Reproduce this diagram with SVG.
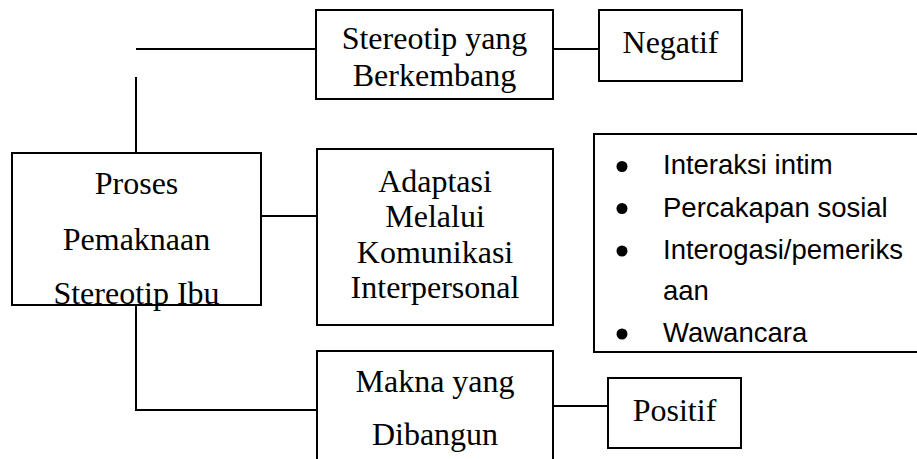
<svg xmlns="http://www.w3.org/2000/svg" width="917" height="459" viewBox="0 0 917 459">
<style>
.box{fill:#fff;stroke:#000;stroke-width:2}
.ln{fill:none;stroke:#000;stroke-width:2}
.t{font-family:"Liberation Serif","Times New Roman",serif;font-size:32px;fill:#000;text-anchor:middle}
.s{font-family:"Liberation Sans",Arial,sans-serif;font-size:27.5px;fill:#000}
</style>
<rect width="917" height="459" fill="#fff"/>
<g id="connectors">
<path class="ln" d="M136 49H316"/>
<path class="ln" d="M136 77V153"/>
<path class="ln" d="M261 216H317"/>
<path class="ln" d="M136 305V410H317"/>
<path class="ln" d="M553 49H599"/>
<path class="ln" d="M553 406H608"/>
</g>
<g id="stereotip">
<rect class="box" x="316" y="10" width="237" height="89"/>
<text class="t" x="434.5" y="49">Stereotip yang</text>
<text class="t" x="434.5" y="86">Berkembang</text>
</g>
<g id="negatif">
<rect class="box" x="599" y="10" width="143" height="71"/>
<text class="t" x="670.5" y="53">Negatif</text>
</g>
<g id="proses">
<rect class="box" x="12" y="153" width="249" height="152"/>
<text class="t" x="136.5" y="194">Proses</text>
<text class="t" x="136.5" y="250">Pemaknaan</text>
<text class="t" x="136.5" y="304">Stereotip Ibu</text>
</g>
<g id="adaptasi">
<rect class="box" x="317" y="149" width="236" height="176"/>
<text class="t" x="435" y="191.5">Adaptasi</text>
<text class="t" x="435" y="227">Melalui</text>
<text class="t" x="435" y="262.5">Komunikasi</text>
<text class="t" x="435" y="298">Interpersonal</text>
</g>
<g id="bentuk">
<rect class="box" x="594" y="134" width="330" height="218"/>
<circle cx="622" cy="166.5" r="5.5"/>
<circle cx="622" cy="208.5" r="5.5"/>
<circle cx="622" cy="251" r="5.5"/>
<circle cx="622" cy="334" r="5.5"/>
<text class="s" x="663" y="174">Interaksi intim</text>
<text class="s" x="663" y="216.5">Percakapan sosial</text>
<text class="s" x="663" y="259">Interogasi/pemeriks</text>
<text class="s" x="663" y="300">aan</text>
<text class="s" x="663" y="341.5">Wawancara</text>
</g>
<g id="makna">
<rect class="box" x="317" y="351" width="236" height="130"/>
<text class="t" x="435" y="391.5">Makna yang</text>
<text class="t" x="435" y="445">Dibangun</text>
</g>
<g id="positif">
<rect class="box" x="608" y="378" width="133" height="70"/>
<text class="t" x="674.5" y="421">Positif</text>
</g>
</svg>
